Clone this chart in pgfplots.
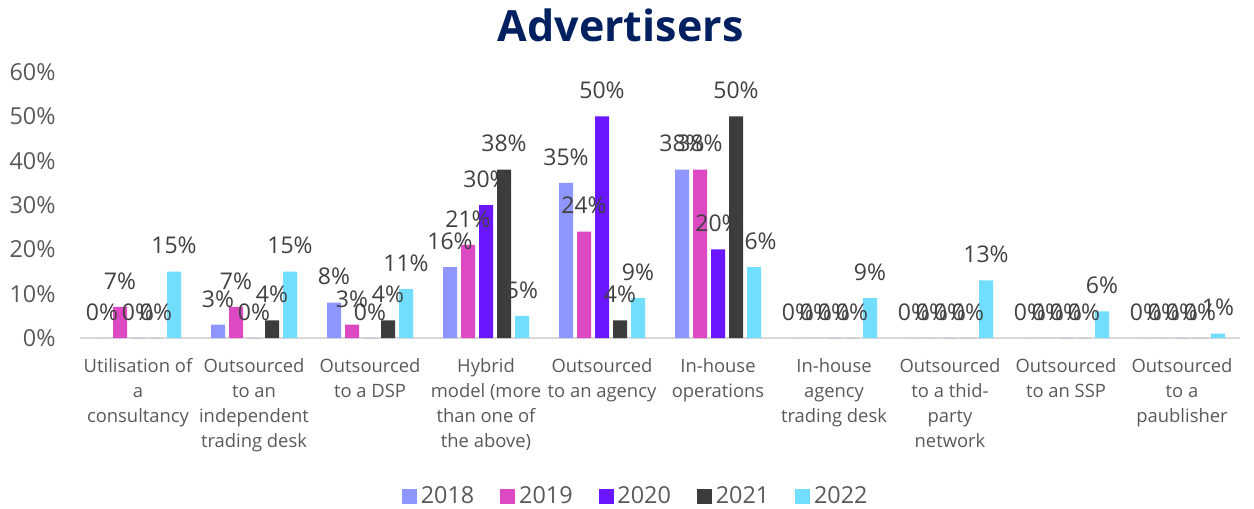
\documentclass[border=0pt]{standalone}
\usepackage{fontspec}
\setmainfont{Open Sans}
\usepackage{pgfplots}
\pgfplotsset{compat=1.18}
\definecolor{c2018}{HTML}{8F96FF}
\definecolor{c2019}{HTML}{DD48C3}
\definecolor{c2020}{HTML}{6A17FF}
\definecolor{c2021}{HTML}{3C3C3C}
\definecolor{c2022}{HTML}{72DEFF}
\definecolor{titleblue}{HTML}{002060}
\definecolor{ticktext}{HTML}{595959}
\definecolor{labtext}{HTML}{404040}
\definecolor{axisgray}{HTML}{D9D9D9}

\begin{document}
\begin{tikzpicture}
\begin{axis}[
  scale only axis, width=580pt, height=133pt,
  ybar, bar width=7pt,
  xmin=-0.5, xmax=9.5, ymin=0, ymax=60,
  clip=false,
  xtick={0,...,9},
  xticklabels={{Utilisation of\\a\\consultancy},
               {Outsourced\\to an\\independent\\trading desk},
               {Outsourced\\to a DSP},
               {Hybrid\\model (more\\than one of\\the above)},
               {Outsourced\\to an agency},
               {In-house\\operations},
               {In-house\\agency\\trading desk},
               {Outsourced\\to a thid-\\party\\network},
               {Outsourced\\to an SSP},
               {Outsourced\\to a\\paublisher}},
  ytick={0,10,...,60},
  yticklabel={\pgfmathprintnumber{\tick}\%},
  /pgf/number format/assume math mode=true,
  axis x line=bottom, axis y line=left,
  x axis line style={-, draw=axisgray, line width=0.75pt},
  y axis line style={draw=none},
  major tick length=0pt, tick style={draw=none},
  xticklabel style={align=center, anchor=north, inner sep=0pt, yshift=-10pt,
                    font=\fontsize{9.2}{12.5}\selectfont, text=ticktext},
  yticklabel style={anchor=east, inner sep=0pt, xshift=-12pt,
                    font=\fontsize{11.7}{13}\selectfont, text=ticktext},
  title={\bfseries Advertisers},
  title style={at={(0.466,1.131)}, anchor=center, inner sep=0pt, yshift=0pt,
               font=\fontsize{21.5}{26}\selectfont, text=titleblue},
  nodes near coords={\pgfmathprintnumber{\pgfplotspointmeta}\%},
  point meta=y,
  every node near coord/.append style={font=\fontsize{11.5}{13}\selectfont,
                    text=labtext, inner sep=0pt, yshift=8.5pt,
                    /pgf/number format/assume math mode=true},
  legend style={at={(0.48,-0.597)}, anchor=center, draw=none, fill=none,
                legend columns=5, font=\fontsize{11.7}{13}\selectfont,
                text=ticktext,
                /tikz/every even column/.append style={column sep=11pt}},
]
\addplot[fill=c2018, draw=none, bar shift=-18pt, forget plot] coordinates {
  (0,0)(1,3)(2,8)(3,16)(4,35)(5,38)(6,0)(7,0)(8,0)(9,0)};
\addplot[fill=c2019, draw=none, bar shift=-9pt, forget plot] coordinates {
  (0,7)(1,7)(2,3)(3,21)(4,24)(5,38)(6,0)(7,0)(8,0)(9,0)};
\addplot[fill=c2020, draw=none, bar shift=0pt, forget plot] coordinates {
  (0,0)(1,0)(2,0)(3,30)(4,50)(5,20)(6,0)(7,0)(8,0)(9,0)};
\addplot[fill=c2022, draw=none, bar shift=18pt, forget plot] coordinates {
  (0,15)(1,15)(2,11)(3,5)(4,9)(5,16)(6,9)(7,13)(8,6)(9,1)};
\addplot[fill=c2021, draw=none, bar shift=9pt, forget plot] coordinates {
  (0,0)(1,4)(2,4)(3,38)(4,4)(5,50)(6,0)(7,0)(8,0)(9,0)};
\addlegendimage{legend image code/.code={\fill[c2018] (0pt,-3.5pt) rectangle (7pt,3.5pt);}}
\addlegendentry{2018}
\addlegendimage{legend image code/.code={\fill[c2019] (0pt,-3.5pt) rectangle (7pt,3.5pt);}}
\addlegendentry{2019}
\addlegendimage{legend image code/.code={\fill[c2020] (0pt,-3.5pt) rectangle (7pt,3.5pt);}}
\addlegendentry{2020}
\addlegendimage{legend image code/.code={\fill[c2021] (0pt,-3.5pt) rectangle (7pt,3.5pt);}}
\addlegendentry{2021}
\addlegendimage{legend image code/.code={\fill[c2022] (0pt,-3.5pt) rectangle (7pt,3.5pt);}}
\addlegendentry{2022}
\end{axis}
\pgfresetboundingbox
\path (-40pt,-85.5pt) rectangle (587pt,169pt);
\end{tikzpicture}
\end{document}
